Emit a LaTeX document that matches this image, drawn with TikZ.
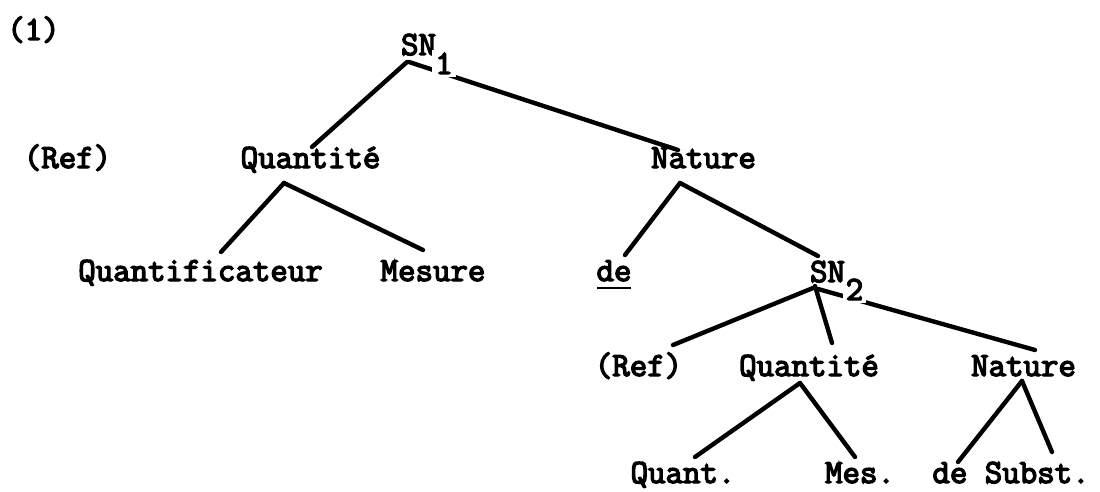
\documentclass[tikz,border=0pt]{standalone}
\usepackage{fontspec}
\newfontfamily\twfont{Latin Modern Mono}[FakeBold=4]
\begin{document}
\begin{tikzpicture}[x=1pt,y=-1pt,
  lbl/.style={inner sep=0pt, anchor=base, font=\twfont\fontsize{33.9}{34}\selectfont},
  subnum/.style={lbl, fill=white, inner sep=3pt},
  edge/.style={line width=4.4pt, line cap=round}]
\useasboundingbox[fill=white] (0,0) rectangle (1100,492);
% nodes
\node[lbl] (one) at (33.5,40) {(1)};
\node[lbl] (sn1) at (418.5,55) {SN};
\node[lbl] (ref1) at (67.5,168) {(Ref)};
\node[lbl] (q1) at (310.5,168) {Quantité};
\node[lbl] (n1) at (703.5,168) {Nature};
\node[lbl] (qf) at (200.5,281) {Quantificateur};
\node[lbl] (mes) at (433,281) {Mesure};
\node[lbl] (de) at (614,281) {de};
\node[lbl] (sn2) at (827.5,282) {SN};
\node[lbl] (ref2) at (638.5,376) {(Ref)};
\node[lbl] (q2) at (809,376) {Quantité};
\node[lbl] (n2) at (1023.5,376) {Nature};
\node[lbl] (quant) at (683,483) {Quant.};
\node[lbl] (mes2) at (860,483) {Mes.};
\node[lbl] (desubst) at (1011,483) {de Subst.};
% underline of de
\draw[line width=2.2pt] ([shift={(-17,7)}]de.base) -- ([shift={(17,7)}]de.base);
% connectors
\draw[edge] ([shift={(-11.5,7)}]sn1.base) -- ([shift={(1.5,-21)}]q1.base);
\draw[edge] ([shift={(-9.5,7)}]sn1.base) -- ([shift={(-25.5,-18)}]n1.base);
\draw[edge] ([shift={(-26.5,15)}]q1.base) -- ([shift={(20.5,-29)}]qf.base);
\draw[edge] ([shift={(-26.5,15)}]q1.base) -- ([shift={(-10,-31)}]mes.base);
\draw[edge] ([shift={(-23.5,15)}]n1.base) -- ([shift={(11,-26)}]de.base);
\draw[edge] ([shift={(-23.5,15)}]n1.base) -- ([shift={(-9.5,-26)}]sn2.base);
\draw[edge] ([shift={(-14.5,6)}]sn2.base) -- ([shift={(34.5,-31)}]ref2.base);
\draw[edge] ([shift={(-12.5,4)}]sn2.base) -- ([shift={(23,-33)}]q2.base);
\draw[edge] ([shift={(-9.5,7)}]sn2.base) -- ([shift={(11.5,-26)}]n2.base);
\draw[edge] ([shift={(-9,7)}]q2.base) -- ([shift={(12,-26)}]quant.base);
\draw[edge] ([shift={(-9,7)}]q2.base) -- ([shift={(-5,-26)}]mes2.base);
\draw[edge] ([shift={(-1.5,5)}]n2.base) -- ([shift={(-53,-21)}]desubst.base);
\draw[edge] ([shift={(-1.5,5)}]n2.base) -- ([shift={(41,-31)}]desubst.base);
% subscripts
\node[subnum] (sub1) at (444,74) {1};
\node[subnum] (sub2) at (854.5,300) {2};
\end{tikzpicture}
\end{document}
